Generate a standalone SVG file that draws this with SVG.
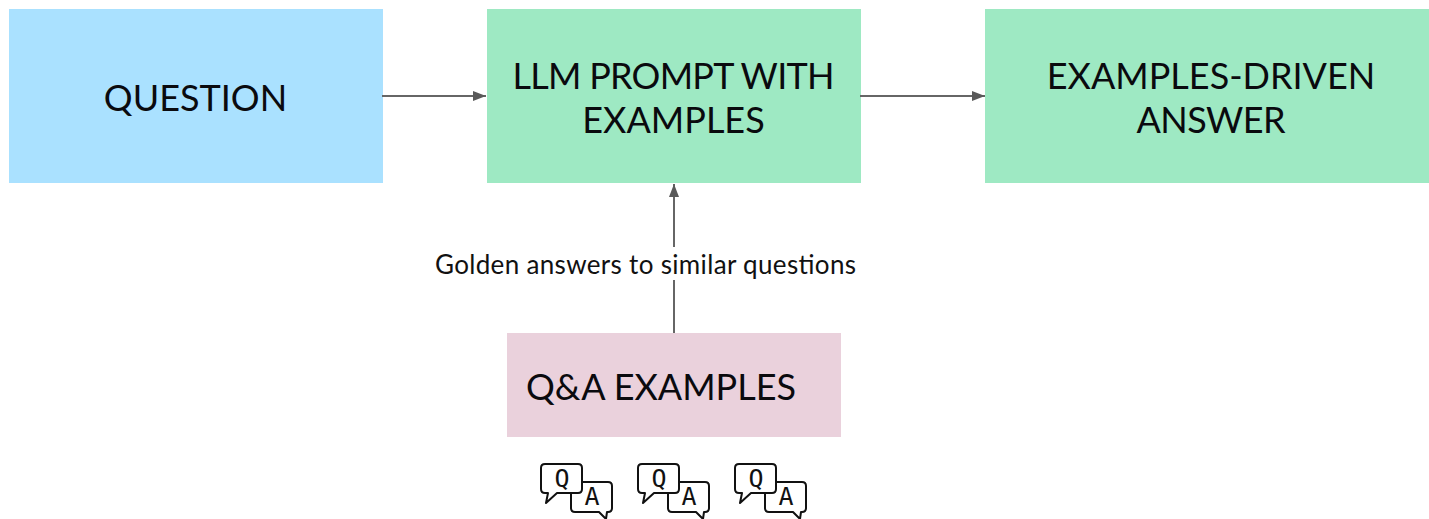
<svg xmlns="http://www.w3.org/2000/svg" width="1429" height="519" viewBox="0 0 1429 519">
<style>
.t{font-family:"Lato","Liberation Sans",sans-serif;font-size:36px;fill:#0a0a0e;text-anchor:middle}
.l{font-family:"Lato","Liberation Sans",sans-serif;font-size:26px;fill:#111;text-anchor:middle}
.q{font-family:"DejaVu Sans Mono","Liberation Mono",monospace;font-size:25px;fill:#111;text-anchor:middle}
.c{stroke:#666;stroke-width:2;fill:none}
.b{fill:#fff;stroke:#111;stroke-width:2;stroke-linejoin:round}
</style>
<defs>
<marker id="a" markerUnits="userSpaceOnUse" markerWidth="14" markerHeight="12" refX="13" refY="6" orient="auto"><path d="M0 1L13 6L0 11Z" fill="#595959"/></marker>
<path id="bq" d="M5 1H38Q42 1 42 5V26Q42 30 38 30H17L6 40L8 30H5Q1 30 1 26V5Q1 1 5 1Z"/>
<path id="ba" d="M38 19H68Q72 19 72 23V45Q72 49 68 49H67L66 56L59 49H35Q31 49 31 45V28"/>
</defs>
<g id="question"><rect x="9" y="9" width="374" height="174" fill="#aae1ff"/><text class="t" x="195.500" y="111">QUESTION</text></g>
<g id="prompt"><rect x="487" y="9" width="374" height="174" fill="#9ee9c3"/><text class="t" x="673.500" y="89" textLength="322" lengthAdjust="spacing">LLM PROMPT WITH</text><text class="t" x="673.500" y="133">EXAMPLES</text></g>
<g id="answer"><rect x="985" y="9" width="444" height="174" fill="#9ee9c3"/><text class="t" x="1211" y="89">EXAMPLES-DRIVEN</text><text class="t" x="1211" y="133" textLength="149" lengthAdjust="spacing">ANSWER</text></g>
<g id="examples"><rect x="507" y="333" width="334" height="104" fill="#ead1dc"/><text class="t" x="661" y="400">Q&amp;A EXAMPLES</text></g>
<g id="icon1"><use href="#ba" class="b" x="540" y="463"/><use href="#bq" class="b" x="540" y="463"/><text class="q" x="562" y="487">Q</text><text class="q" x="592" y="505">A</text></g>
<g id="icon2"><use href="#ba" class="b" x="637" y="463"/><use href="#bq" class="b" x="637" y="463"/><text class="q" x="659" y="487">Q</text><text class="q" x="689" y="505">A</text></g>
<g id="icon3"><use href="#ba" class="b" x="734" y="463"/><use href="#bq" class="b" x="734" y="463"/><text class="q" x="756" y="487">Q</text><text class="q" x="786" y="505">A</text></g>
<g id="connectors">
<path class="c" d="M382 96H486" marker-end="url(#a)"/>
<path class="c" d="M860 96H985" marker-end="url(#a)"/>
<path class="c" d="M674 333V280M674 247V184" marker-end="url(#a)"/>
<text class="l" x="645.500" y="274" textLength="421" lengthAdjust="spacing">Golden answers to similar questions</text>
</g>
</svg>
